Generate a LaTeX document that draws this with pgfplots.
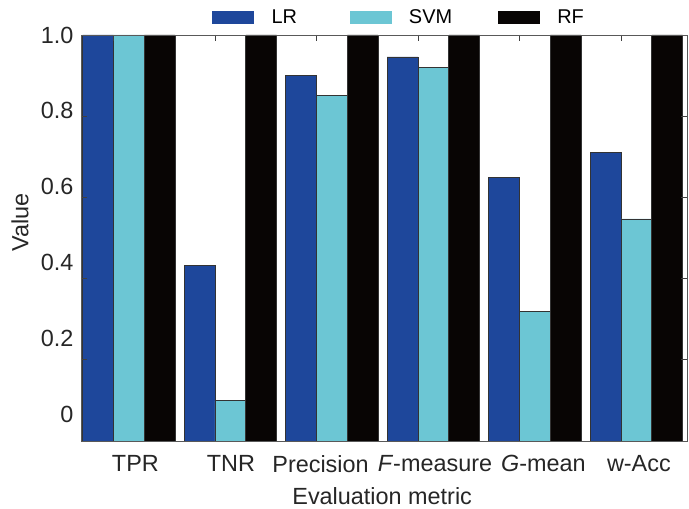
\documentclass[border=0pt]{standalone}
\usepackage{pgfplots}
\pgfplotsset{compat=1.18}
\usepackage{fontspec}
\setmainfont{Liberation Sans}
\definecolor{lrblue}{RGB}{30,71,155}
\definecolor{svmcyan}{RGB}{108,198,212}
\definecolor{rfblack}{RGB}{8,5,4}
\begin{document}
\begin{tikzpicture}
\begin{axis}[
  scale only axis, width=606bp, height=406bp,
  xmin=0.68, xmax=6.65, ymin=0, ymax=1,
  axis on top,
  xtick={1.216,2.157,3.04,4.167,5.235,6.176},
  xticklabels={TPR,TNR,Precision,\textit{F}-measure,\textit{G}-mean,w-Acc},
  minor xtick={1,2,3,4,5,6},
  xtick pos=upper, xticklabel pos=lower,
  ytick={0.0665,0.2532,0.4399,0.6266,0.8133,1.0},
  yticklabels={0,0.2,0.4,0.6,0.8,1.0},
  minor ytick={0.2,0.4,0.6,0.8},
  major tick style={draw=none},
  minor tick style={black!75, line width=0.9bp},
  minor tick length=6bp,
  tick align=inside,
  axis line style={gray!70!black, line width=0.8bp},
  tick label style={font=\fontsize{23.5}{28}\selectfont, text=black!85},
  xticklabel style={yshift=-11bp},
  yticklabel style={xshift=-4bp},
  label style={font=\fontsize{23.5}{28}\selectfont, text=black!85},
  ylabel={Value},
  xlabel={Evaluation metric},
  ylabel style={at={(axis description cs:-0.1007,0.539)}, anchor=center},
  xlabel style={at={(axis description cs:0.497,-0.137)}, anchor=center, inner sep=1bp},
  legend columns=3,
  legend style={draw=none, fill=none, inner sep=0pt,
    at={(axis description cs:0,1)}, anchor=west, xshift=131bp, yshift=17.5bp,
    font=\fontsize{20}{24}\selectfont,
    /tikz/every odd column/.append style={column sep=16bp},
    /tikz/every even column/.append style={column sep=16bp}},
]
\addplot[ybar, bar width=0.304, bar shift=-0.152, fill=lrblue, draw=black!80, line width=0.8bp, forget plot]
  coordinates {(1,1.0) (2,0.432) (3,0.901) (4,0.946) (5,0.650) (6,0.710)};
\addplot[ybar, bar width=0.304, bar shift=0.152, fill=svmcyan, draw=black!80, line width=0.8bp, forget plot]
  coordinates {(1,1.0) (2,0.099) (3,0.852) (4,0.921) (5,0.320) (6,0.547)};
\addplot[ybar, bar width=0.304, bar shift=0.456, fill=rfblack, draw=black!80, line width=0.8bp, forget plot]
  coordinates {(1,1.0) (2,1.0) (3,1.0) (4,1.0) (5,1.0) (6,1.0)};
\addlegendimage{legend image code/.code={\fill[lrblue] (0bp,-6bp) rectangle (41bp,6bp);}}
\addlegendentry{\makebox[60bp][l]{LR}}
\addlegendimage{legend image code/.code={\fill[svmcyan] (0bp,-6bp) rectangle (41bp,6bp);}}
\addlegendentry{\makebox[71bp][l]{SVM}}
\addlegendimage{legend image code/.code={\fill[rfblack] (0bp,-6bp) rectangle (41bp,6bp);}}
\addlegendentry{\makebox[30bp][l]{RF}}
\end{axis}
\pgfresetboundingbox
\useasboundingbox ([xshift=-81bp,yshift=-68bp]current axis.south west) rectangle ([xshift=2bp,yshift=35bp]current axis.north east);
\end{tikzpicture}
\end{document}
